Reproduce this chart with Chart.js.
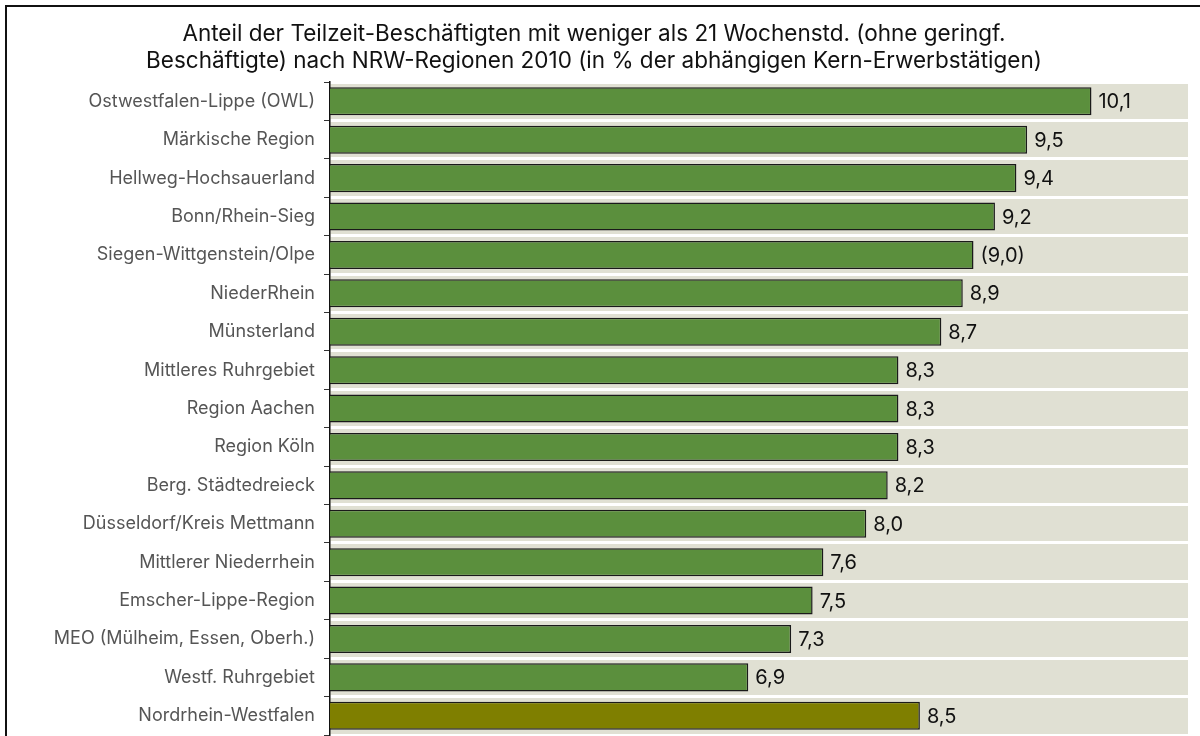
<!DOCTYPE html>
<html lang="de">
<head>
    <meta charset="UTF-8">
    <title>Teilzeit-Beschäftigte NRW-Regionen 2010</title>
    <script src="https://cdn.jsdelivr.net/npm/chart.js"></script>
    <style>
        body { margin: 0; background: #fff; }
        .wrap { position: relative; width: 1200px; height: 736px; overflow: hidden; }
        .frame { position: absolute; left: 5px; top: 5px; width: 1300px; height: 900px;
                 border-left: 2px solid #111; border-top: 2px solid #111; }
        #regionChart { position: absolute; left: 0; top: 0; }
    </style>
</head>
<body>
    <div class="wrap">
        <div class="frame"></div>
        <canvas id="regionChart" width="1200" height="736"></canvas>
    </div>
<script>
const titleLines = [
    'Anteil der Teilzeit-Beschäftigten mit weniger als 21 Wochenstd. (ohne geringf.',
    'Beschäftigte) nach NRW-Regionen 2010 (in % der abhängigen Kern-Erwerbstätigen)'
];

const regions = [
    'Ostwestfalen-Lippe (OWL)',
    'Märkische Region',
    'Hellweg-Hochsauerland',
    'Bonn/Rhein-Sieg',
    'Siegen-Wittgenstein/Olpe',
    'NiederRhein',
    'Münsterland',
    'Mittleres Ruhrgebiet',
    'Region Aachen',
    'Region Köln',
    'Berg. Städtedreieck',
    'Düsseldorf/Kreis Mettmann',
    'Mittlerer Niederrhein',
    'Emscher-Lippe-Region',
    'MEO (Mülheim, Essen, Oberh.)',
    'Westf. Ruhrgebiet',
    'Nordrhein-Westfalen'
];

const shares = [10.1, 9.5, 9.4, 9.2, 9.0, 8.9, 8.7, 8.3, 8.3, 8.3, 8.2, 8.0, 7.6, 7.5, 7.3, 6.9, 8.5];

// values printed in brackets (small sample)
const bracketed = [false, false, false, false, true, false, false, false, false, false, false, false, false, false, false, false, false];

const axisMin = 3;
const axisMax = 11;

const barColors = regions.map(r => r === 'Nordrhein-Westfalen' ? '#7f7f00' : '#5b8f3d');

const fontFamily = 'Inter, "Noto Sans", sans-serif';

function formatShare(v, i) {
    const s = v.toFixed(1).replace('.', ',');
    return bracketed[i] ? '(' + s + ')' : s;
}

// beige plot background
const plotBackground = {
    id: 'plotBackground',
    beforeDraw(chart) {
        const { ctx, chartArea: a } = chart;
        ctx.save();
        ctx.fillStyle = '#e0e0d3';
        ctx.fillRect(a.left, a.top, a.right - a.left, a.bottom - a.top);
        ctx.restore();
    }
};

// value text to the right of each bar
const valueLabels = {
    id: 'valueLabels',
    afterDatasetsDraw(chart) {
        const { ctx } = chart;
        const meta = chart.getDatasetMeta(0);
        ctx.save();
        ctx.font = '20px ' + fontFamily;
        ctx.fillStyle = '#111';
        ctx.textAlign = 'left';
        ctx.textBaseline = 'middle';
        meta.data.forEach((bar, i) => {
            ctx.fillText(formatShare(shares[i], i), bar.x + 7, bar.y + 1);
        });
        ctx.restore();
    }
};

const ctx = document.getElementById('regionChart').getContext('2d');
new Chart(ctx, {
    type: 'bar',
    data: {
        labels: regions,
        datasets: [{
            data: shares,
            backgroundColor: barColors,
            borderColor: '#1a1a1a',
            borderWidth: 1.5,
            borderSkipped: false,
            barPercentage: 0.73,
            categoryPercentage: 1
        }]
    },
    options: {
        indexAxis: 'y',
        responsive: false,
        animation: false,
        layout: { padding: { left: 0, right: 12, top: 0, bottom: 1 } },
        plugins: {
            legend: { display: false },
            tooltip: { enabled: false },
            title: {
                display: true,
                text: titleLines,
                color: '#111',
                font: { family: fontFamily, size: 22.5, weight: 'normal', lineHeight: 1.18 },
                padding: { top: 21, bottom: 8 }
            }
        },
        scales: {
            x: {
                display: false,
                min: axisMin,
                max: axisMax
            },
            y: {
                afterFit(scale) {
                    scale.width = 330;
                    scale.paddingTop = 0;
                    scale.paddingBottom = 0;
                },
                border: { display: true, color: '#111', width: 1.5 },
                grid: {
                    offset: true,
                    color: '#ffffff',
                    lineWidth: 3,
                    drawTicks: true,
                    tickLength: 6,
                    tickColor: '#333',
                    tickWidth: 1
                },
                ticks: {
                    color: '#555',
                    padding: 9,
                    font: { family: fontFamily, size: 18 }
                }
            }
        }
    },
    plugins: [plotBackground, valueLabels]
});
</script>
</body>
</html>
